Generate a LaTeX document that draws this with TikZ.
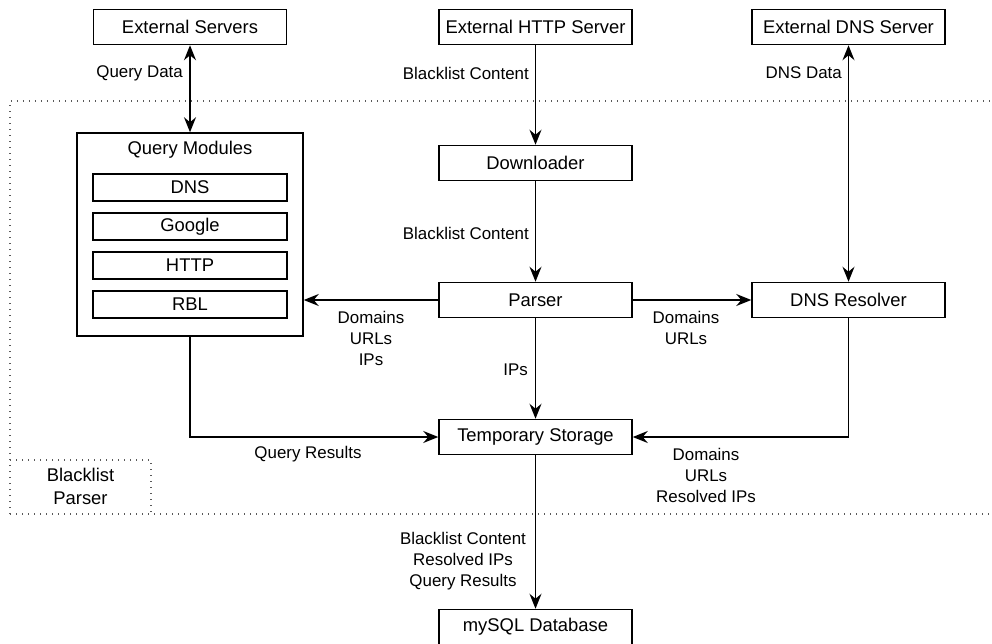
\documentclass[tikz,border=0pt]{standalone}
\usepackage{fontspec}
\setmainfont{Liberation Sans}
\usetikzlibrary{arrows.meta}

\tikzset{
  box/.style={draw, line width=1.5pt, fill=white, inner sep=0pt,
    minimum width=193pt, minimum height=35pt,
    font=\fontsize{18.4}{22}\selectfont},
  modbox/.style={box, minimum width=194pt, minimum height=27pt},
  txt/.style={inner sep=0pt, font=\fontsize{18.4}{22}\selectfont},
  lbl/.style={inner sep=0pt, align=center, font=\fontsize{16.9}{21}\selectfont},
  conn/.style={line width=1.5pt},
  tip/.tip={Stealth[length=15pt, width=12pt, inset=5pt]},
  arr/.style={conn, -tip},
  dbl/.style={conn, tip-tip},
  zone/.style={line width=1.2pt, dash pattern=on 1.3pt off 4.7pt, gray!70!black},
}

\begin{document}
\begin{tikzpicture}[x=1pt, y=-1pt]
\clip (0,0) rectangle (992,644);
\fill[white] (0,0) rectangle (992,644);

% boundary of the blacklist parser component
\draw[zone] (10,514) -- (10,101) -- (1000,101);
\draw[zone] (10,514) -- (1000,514);
\draw[zone] (10,460) -- (151,460) -- (151,514);
\node[txt, align=center, font=\fontsize{18.4}{23}\selectfont] (bpl) at (80.5,486) {Blacklist\\Parser};

% external servers
\node[box] (ext)  at (190,27)   {External Servers};
\node[box] (http) at (535.5,27) {External HTTP Server};
\node[box] (dns)  at (848.5,27) {External DNS Server};

% query modules
\node[box, minimum width=226pt, minimum height=203pt] (qm) at (190,234.5) {};
\node[txt] (qmt) at (190,150) {Query Modules};
\node[modbox] (mdns)  at (190,187.5) {DNS};
\node[modbox] (mgoo)  at (190,226.5) {Google};
\node[modbox] (mhttp) at (190,265.5) {HTTP};
\node[modbox] (mrbl)  at (190,304.5) {RBL};

% processing chain
\node[box] (dl)  at (535.5,163) {Downloader};
\node[box] (par) at (535.5,300) {Parser};
\node[box] (res) at (848.5,300) {DNS Resolver};
\node[box] (tmp) at (535.5,437) {Temporary Storage};
\node[box] (db)  at (535.5,627) {mySQL Database};

% connectors
\draw[dbl] (ext) -- (qm);
\draw[arr] (http) -- (dl);
\draw[dbl] (dns) -- (res);
\draw[arr] (dl) -- (par);
\draw[arr] (par.west) -- (qm.east |- par.west);
\draw[arr] (par) -- (res);
\draw[arr] (par) -- (tmp);
\draw[arr] (qm.south) |- (tmp.west);
\draw[arr] (res.south) |- (tmp.east);
\draw[arr] (tmp) -- (db);

% connector labels
\node[lbl, anchor=east] (lqd) at (183,73) {Query Data};
\node[lbl, anchor=east] (lbc1) at (529,73) {Blacklist Content};
\node[lbl, anchor=east] (ldd) at (842,73) {DNS Data};
\node[lbl, anchor=east] (lbc2) at (529,233) {Blacklist Content};
\node[lbl] (ldui) at (371,338) {Domains\\URLs\\IPs};
\node[lbl] (ldu) at (686,327.5) {Domains\\URLs};
\node[lbl, anchor=east] (lips) at (528,370) {IPs};
\node[lbl] (lqr) at (308,454) {Query Results};
\node[lbl] (ldur) at (706,475) {Domains\\URLs\\Resolved IPs};
\node[lbl] (lall) at (463,561) {Blacklist Content\\Resolved IPs\\Query Results};
\end{tikzpicture}
\end{document}
